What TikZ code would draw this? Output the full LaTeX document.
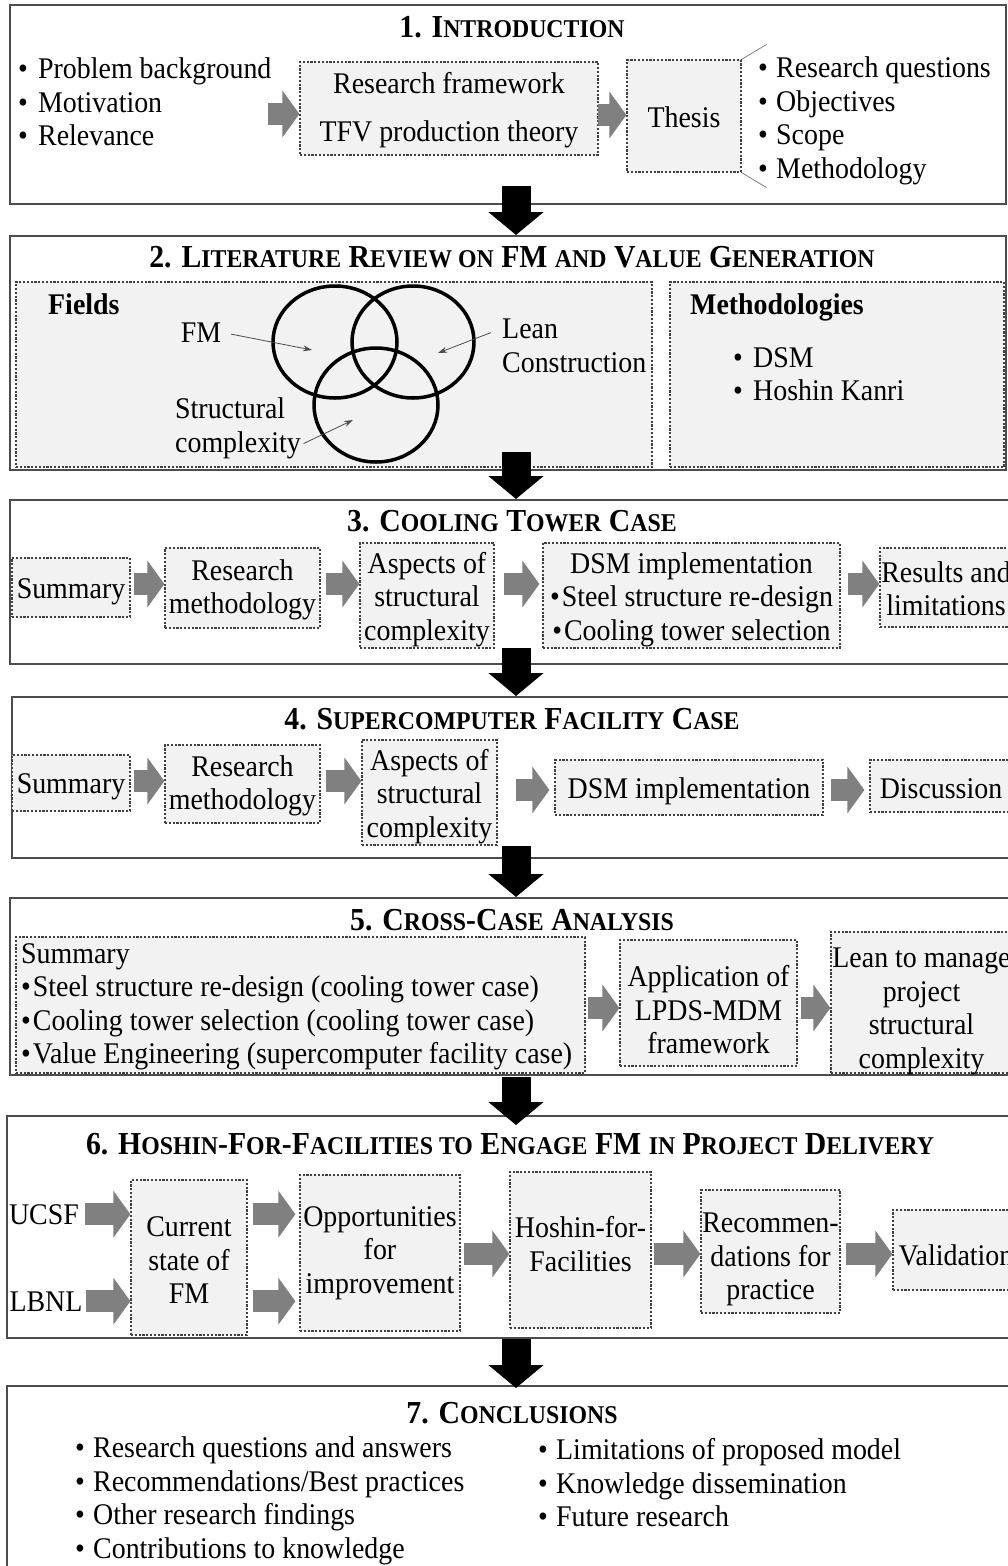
\documentclass[tikz,border=0pt]{standalone}
\usepackage{fontspec}
\setmainfont{Liberation Serif}[FakeStretch=0.93]
\usetikzlibrary{arrows.meta,fit,calc}
\newcommand\body{\fontsize{30}{33.5}\selectfont}
\newcommand\ttl{\fontsize{32}{34}\selectfont\bfseries}
\newcommand\Sc[1]{{\fontsize{25.6}{25.6}\selectfont #1}}
\newcommand\bult[1][18pt]{\makebox[#1][l]{•}}
\newcommand\tb{•\kern2pt}
\newcommand\bx[7][3]{%
 \pgfmathsetmacro\bxcx{(#3+#5)/2}\pgfmathsetmacro\bxcy{(#4+#6)/2}%
 \pgfmathsetmacro\bxw{#5-#3}\pgfmathsetmacro\bxh{#6-#4}%
 \node[dbox,minimum width=\bxw pt,minimum height=\bxh pt] (#2) at (\bxcx,\bxcy) {};
 \node[btxt] (#2t) at ([yshift=-#1pt]#2.center) {#7};}
\begin{document}
\begin{tikzpicture}[x=1pt,y=-1pt,
 sect/.style={draw=black!70,line width=2pt,inner sep=0pt},
 dbox/.style={draw=black!75,dash pattern=on 2.2pt off 1.6pt,line width=1.2pt,fill=black!5,inner sep=0pt},
 btxt/.style={inner sep=0pt,align=center,font=\body},
 txt/.style={inner sep=0pt,font=\body,align=left},
 title/.style={inner sep=0pt,font=\ttl,anchor=base},
 garrow/.style={draw=black!50,line width=22pt,-{Triangle[length=17pt,width=46pt]}},
 barrow/.style={draw=black,line width=29pt,-{Triangle[length=23pt,width=54pt]}},
 venn/.style={draw=black,line width=3.5pt},
 varr/.style={draw=black!70,line width=0.8pt,-{Stealth[length=9pt,width=6pt]}},
 corner/.style={draw=black!50,line width=0.8pt},
]
\useasboundingbox (0,0) rectangle (1008,1566);
\fill[white] (0,0) rectangle (1008,1566);

% ---------- Section 1
\node[sect,fit={(10,5) (1006,204)}] (s1) {};
\node[title] (t1) at (512,37) {1. I\Sc{NTRODUCTION}};
\node[txt,anchor=west] (l1) at (18,102) {\bult[20pt]Problem background\\\bult[20pt]Motivation\\\bult[20pt]Relevance};
\bx[2]{rf}{300}{62}{598}{155}{Research framework\\[14.5pt]TFV production theory}
\bx[1]{th}{627}{60}{741}{172}{Thesis}
\draw[corner] (th.north east) -- ++(25,-15);
\draw[corner] (th.south east) -- ++(25,15);
\node[txt,anchor=west] (r1) at (758,121) {\bult Research questions\\\bult Objectives\\\bult Scope\\\bult Methodology};
\coordinate (a1) at (268,114);
\coordinate (a2) at (598,115);
\draw[garrow] (a1) -- (a1 -| rf.west);
\draw[garrow] (a2) -- (a2 -| th.west);

% ---------- Section 2
\node[sect,fit={(10,236) (1006,470)}] (s2) {};
\node[title] (t2) at (512,267) {2. L\Sc{ITERATURE} R\Sc{EVIEW ON} FM \Sc{AND} V\Sc{ALUE} G\Sc{ENERATION}};
\bx{fld}{16}{282}{652}{467}{}
\bx{meth}{670}{282}{1004}{467}{}
\node[txt,anchor=base west,font=\body\bfseries] (fl) at (48,314) {Fields};
\node[txt,anchor=base west,font=\body\bfseries] (ml) at (690,314) {Methodologies};
\node[txt,anchor=west] (ml2) at (733,374) {\bult[20pt]DSM\\\bult[20pt]Hoshin Kanri};
\draw[venn] (335,342) ellipse [x radius=62pt, y radius=56pt];
\draw[venn] (413,342) ellipse [x radius=61pt, y radius=56pt];
\draw[venn] (376,405) ellipse [x radius=62pt, y radius=57pt];
\node[txt,anchor=base] (fm) at (201,342) {FM};
\node[txt,anchor=base west] (ln) at (502,338) {Lean};
\node[txt,anchor=base west] (cn) at (502,372) {Construction};
\node[txt,anchor=base west] (st) at (175,418) {Structural};
\node[txt,anchor=base west] (cx) at (175,452) {complexity};
\coordinate (vf) at (312,350);
\coordinate (vl) at (438,353);
\coordinate (vs) at (353,420);
\draw[varr,shorten <=10pt] (fm.east) -- (vf);
\draw[varr,shorten <=12pt] (ln.west) -- (vl);
\draw[varr,shorten <=3pt] (cx.east) -- (vs);

% ---------- Section 3
\node[sect,fit={(10,500) (1014,664)}] (s3) {};
\node[title] (t3) at (512,531) {3. C\Sc{OOLING} T\Sc{OWER} C\Sc{ASE}};
\bx[4]{sum3}{12}{558}{130}{617}{Summary}
\bx[2]{rm3}{165}{548}{320}{628}{Research\\methodology}
\bx[4]{asp3}{360}{543}{494}{648}{Aspects of\\structural\\complexity}
\bx[4]{dsm3}{543}{543}{840}{648}{DSM implementation\\\tb Steel structure re-design\\\tb Cooling tower selection}
\bx[1]{res3}{880}{548}{1012}{627}{Results and\\limitations}
\coordinate (y3) at (0,584);
\draw[garrow,shorten <=3pt] (sum3.east |- y3) -- (y3 -| rm3.west);
\draw[garrow,shorten <=5pt] (rm3.east |- y3) -- (y3 -| asp3.west);
\draw[garrow,shorten <=9pt,shorten >=3pt] (asp3.east |- y3) -- (y3 -| dsm3.west);
\draw[garrow,shorten <=7pt] (dsm3.east |- y3) -- (y3 -| res3.west);

% ---------- Section 4
\node[sect,fit={(12,697) (1014,858)}] (s4) {};
\node[title] (t4) at (512,729) {4. S\Sc{UPERCOMPUTER} F\Sc{ACILITY} C\Sc{ASE}};
\bx[4]{sum4}{12}{755}{130}{811}{Summary}
\bx[2]{rm4}{165}{745}{320}{823}{Research\\methodology}
\bx[4]{asp4}{362}{740}{497}{845}{Aspects of\\structural\\complexity}
\bx[4]{dsm4}{555}{760}{823}{815}{DSM implementation}
\bx[3]{disc4}{870}{760}{1012}{812}{Discussion}
\coordinate (y4a) at (0,781);
\coordinate (y4b) at (0,790);
\draw[garrow,shorten <=3pt] (sum4.east |- y4a) -- (y4a -| rm4.west);
\draw[garrow,shorten <=5pt] (rm4.east |- y4a) -- (y4a -| asp4.west);
\draw[garrow,shorten <=18pt,shorten >=5pt] (asp4.east |- y4b) -- (y4b -| dsm4.west);
\draw[garrow,shorten <=7pt,shorten >=5pt] (dsm4.east |- y4b) -- (y4b -| disc4.west);

% ---------- Section 5
\node[sect,fit={(10,898) (1014,1075)}] (s5) {};
\node[title] (t5) at (512,930) {5. C\Sc{ROSS}-C\Sc{ASE} A\Sc{NALYSIS}};
\bx{sum5}{16}{937}{585}{1073}{}
\node[txt,anchor=west] (sum5l) at (21,1007) {Summary\\\tb Steel structure re-design (cooling tower case)\\\tb Cooling tower selection (cooling tower case)\\\tb Value Engineering (supercomputer facility case)};
\bx[7]{app5}{620}{940}{797}{1066}{Application of\\LPDS-MDM\\framework}
\bx[9]{lean5}{831}{932}{1012}{1073}{Lean to manage\\project\\structural\\complexity}
\coordinate (y5) at (0,1008);
\draw[garrow,shorten <=2pt] (sum5.east |- y5) -- (y5 -| app5.west);
\draw[garrow,shorten <=3pt] (app5.east |- y5) -- (y5 -| lean5.west);

% ---------- Section 6
\node[sect,fit={(7,1116) (1014,1338)}] (s6) {};
\node[title] (t6) at (510,1154) {6. H\Sc{OSHIN}-F\Sc{OR}-F\Sc{ACILITIES TO} E\Sc{NGAGE} FM \Sc{IN} P\Sc{ROJECT} D\Sc{ELIVERY}};
\node[txt,anchor=base] (ucsf) at (44,1224) {UCSF};
\node[txt,anchor=base] (lbnl) at (46,1311) {LBNL};
\bx[3]{cur6}{131}{1180}{247}{1335}{Current\\state of\\FM}
\bx[0]{opp6}{300}{1175}{460}{1331}{Opportunities\\for\\improvement}
\bx[-6]{hos6}{510}{1172}{651}{1328}{Hoshin-for-\\Facilities}
\bx[8]{rec6}{701}{1190}{840}{1313}{Recommen-\\dations for\\practice}
\bx[5]{val6}{893}{1210}{1019}{1290}{Validation}
\coordinate (y6) at (0,1254);
\draw[garrow,shorten <=6pt] (ucsf.east) -- (ucsf.east -| cur6.west);
\draw[garrow,shorten <=3pt] (lbnl.east) -- (lbnl.east -| cur6.west);
\draw[garrow,shorten <=5pt,shorten >=4pt] (ucsf.east -| cur6.east) -- (ucsf.east -| opp6.west);
\draw[garrow,shorten <=5pt,shorten >=4pt] (lbnl.east -| cur6.east) -- (lbnl.east -| opp6.west);
\draw[garrow,shorten <=3pt] (opp6.east |- y6) -- (y6 -| hos6.west);
\draw[garrow,shorten <=2pt] (hos6.east |- y6) -- (y6 -| rec6.west);
\draw[garrow,shorten <=5pt] (rec6.east |- y6) -- (y6 -| val6.west);

% ---------- Section 7
\node[sect,fit={(7,1386) (1014,1620)}] (s7) {};
\node[title] (t7) at (512,1423) {7. C\Sc{ONCLUSIONS}};
\node[txt,anchor=west] (c7l) at (75,1501) {\bult Research questions and answers\\\bult Recommendations/Best practices\\\bult Other research findings\\\bult Contributions to knowledge};
\node[txt,anchor=west] (c7r) at (538,1483) {\bult Limitations of proposed model\\\bult Knowledge dissemination\\\bult Future research};

% ---------- Black arrows between sections
\coordinate (k1) at (516,186);
\coordinate (k2) at (516,452);
\coordinate (k3) at (516,648);
\coordinate (k4) at (516,846);
\coordinate (k5) at (516,1077);
\coordinate (k6) at (516,1339);
\draw[barrow] (k1) -- (k1 |- s2.north);
\draw[barrow] (k2) -- (k2 |- s3.north);
\draw[barrow] (k3) -- (k3 |- s4.north);
\draw[barrow] (k4) -- (k4 |- s5.north);
\draw[barrow,shorten >=-10pt] (k5) -- (k5 |- s6.north);
\draw[barrow,shorten >=-3pt] (k6) -- (k6 |- s7.north);
\end{tikzpicture}
\end{document}
